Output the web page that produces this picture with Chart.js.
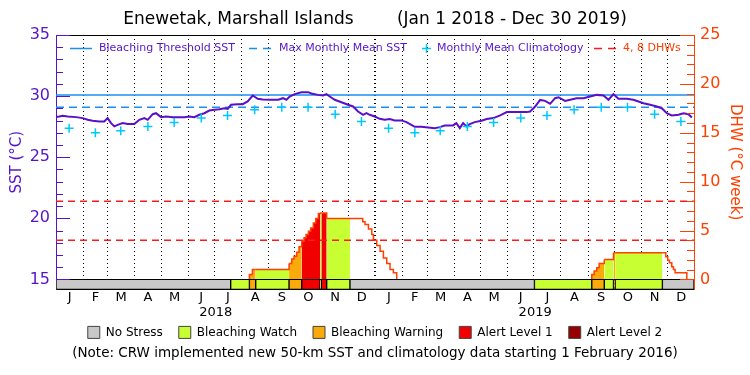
<!DOCTYPE html>
<html><head><meta charset="utf-8">
<script src="https://cdn.jsdelivr.net/npm/chart.js@4/dist/chart.umd.min.js"></script>
<style>html,body{margin:0;padding:0;background:#fff}canvas{display:block}</style>
</head><body>
<canvas id="c" width="750" height="375"></canvas>
<script>
// ---------- data ----------
const chartTitle = 'Enewetak, Marshall Islands        (Jan 1 2018 - Dec 30 2019)';
const noteText = '(Note: CRW implemented new 50-km SST and climatology data starting 1 February 2016)';
const monthLetters = ['J','F','M','A','M','J','J','A','S','O','N','D','J','F','M','A','M','J','J','A','S','O','N','D'];
const monthMidDays = [15.5,45,74.5,105,135.5,166,196.5,227.5,258,288.5,319,349.5,380.5,410,439.5,470,500.5,531,561.5,592.5,623,653.5,684,714.5];
const monthStartDays = [31,59,90,120,151,181,212,243,273,304,334,365,396,424,455,485,516,546,577,608,638,669,699];
const yearLabels = ['2018','2019'];
const yearMidDays = [182.5,547.5];
const sstTickValues = [15,20,25,30,35];
const dhwTickValues = [0,5,10,15,20,25];

const sstDays = [0,3.8,7.6,13.3,22.9,30.5,36.2,41.9,49.5,55.2,59,62.9,66.7,70.5,76.2,81.9,89.5,95.2,101,104.8,110.5,114.3,120,125.7,133.3,141,146.7,152.4,158.1,163.8,169.5,175.2,181,186.7,192.4,196.2,200,207.6,213.3,219,224.8,230.5,236.2,243.8,
254,259.4,263.3,267,272.8,280.4,288,291.8,299.4,305.2,309,312.8,318.5,326.1,333.7,339.4,345.2,350.9,354.7,358.5,364.2,369.9,375.6,381.4,387,394.7,400.4,406.1,409.9,417.5,425.2,432.8,438.5,444.2,453.7,457.5,461.4,465.2,469,472.8,478.5,486.1,
492.2,499.8,507.5,515.1,522.7,530.3,537.9,541.7,547.5,553.2,558.9,564.6,570.3,574.1,581.7,587.5,595,602.7,610.3,617.9,625.6,631.3,637,642.7,652.2,659.8,665.6,671.3,678.9,686.5,692.2,697.9,703.6,711.3,717,722.7,726.5];
const sstValues = [28.28,28.33,28.39,28.33,28.28,28.2,28.06,27.98,27.93,27.93,28.2,27.79,27.52,27.65,27.79,27.71,27.71,28.06,28.2,28.06,28.52,28.6,28.28,28.33,28.28,28.28,28.28,28.33,28.28,28.47,28.6,28.82,28.88,28.93,29.01,28.96,29.29,29.34,29.34,29.56,30.05,29.78,29.72,29.7,
29.7,29.83,29.7,29.97,30.16,30.32,30.32,30.21,30.1,30.05,30.16,29.97,29.7,29.5,29.29,29.15,28.74,28.47,28.6,28.47,28.33,28.14,28.06,28.12,28.01,28.01,27.87,27.65,27.49,27.49,27.43,27.38,27.46,27.6,27.6,27.79,27.38,27.79,27.52,27.71,27.87,27.98,
28.12,28.2,28.42,28.69,28.69,28.69,28.69,28.74,29.15,29.69,29.61,29.37,29.83,29.91,29.61,29.7,29.83,29.83,29.97,30.1,30.05,29.7,30.16,29.78,29.78,29.7,29.56,29.42,29.29,29.15,29.01,28.6,28.42,28.47,28.6,28.52,28.25];

const climDays = [15,45,74,105,135,166,196,227,258,288,319,349,380,410,439,470,500,531,561,592,623,653,684,714];
const climValues = [27.36,27.0,27.17,27.52,27.84,28.2,28.41,28.88,29.09,29.09,28.52,27.93,27.36,27.0,27.17,27.52,27.84,28.2,28.41,28.88,29.09,29.09,28.52,27.93];

const thresholdSST = 30.09;
const mmmSST = 29.09;
const dhwRefLevels = [4, 8];

const dhwDays = [221,221,224.4,228.2,266.3,269.3,272,275,277.7,280.8,283.4,285.7,288.4,291,294.1,296.8,299.8,301.7,303.2,309.3,335.9,350.5,353.1,357,360.8,362.7,366.5,370.3,374.1,377.9,381.7,385.5,389.3,390,612.2,612.2,614.9,617.9,620.6,626.5,637,638.9,692.9,696.8,699,700.9,703.6,705.5,707.4,720.8];
const dhwValues = [0,0.5,1.02,1.02,1.63,2.1,2.38,2.79,3.33,3.91,4.25,4.59,4.93,5.27,5.78,6.22,6.73,6.8,6.8,6.22,6.22,5.9,5.61,5.17,4.59,4.01,3.47,2.89,2.2,1.63,1.02,0.68,0,null,0,0.51,0.85,1.19,1.63,2.04,2.72,2.72,2.72,2.31,1.97,1.7,1.29,1.02,0.68,0];
const dhwLevels = [2,2,2,1,2,2,2,2,2,3,3,3,3,3,3,3,3,1,3,1,0,0,0,0,0,0,0,0,0,0,0,0,0,0,2,2,2,2,2,1,2,1,0,0,0,0,0,0,0,0];

const bandStart = [0,199.6,221,228.2,266.3,280.8,301.7,303.2,309.3,335.9,546.7,612.2,626.5,637,638.9,692.9];
const bandEnd   = [199.6,221,228.2,266.3,280.8,301.7,303.2,309.3,335.9,546.7,612.2,626.5,637,638.9,692.9,729];
const bandLevel = [0,1,2,1,2,3,1,3,1,0,1,2,1,2,1,0];

const stressLabels = ['No Stress','Bleaching Watch','Bleaching Warning','Alert Level 1','Alert Level 2'];
const stressColors = ['#c8c8c8','#c8ff32','#faaa0a','#f00000','#960000'];
const topLegendLabels = ['Bleaching Threshold SST','Max Monthly Mean SST','Monthly Mean Climatology','4, 8 DHWs'];

// ---------- style ----------
const FONT = '"DejaVu Sans", "Liberation Sans", sans-serif';
const AX_L = '#5514c8';
const AX_R = '#ff4000';
const SST_COLOR = '#5a0fc8';
const BLUE = '#1a8ff0';
const CYAN = '#00c8ff';
const RED = '#ff1a1a';

const xy = (xs, ys) => xs.map((x, i) => ({x, y: ys[i]}));

const innerTicks = {
  id: 'innerTicks',
  afterDatasetsDraw(chart) {
    const ctx = chart.ctx, yL = chart.scales.y, yR = chart.scales.y2;
    ctx.save();
    ctx.lineWidth = 1;
    ctx.strokeStyle = AX_L;
    for (let v = 15; v <= 35; v++) {
      const py = Math.round(yL.getPixelForValue(v)) + 0.5;
      const len = v % 5 === 0 ? 14 : 7;
      ctx.beginPath(); ctx.moveTo(yL.right, py); ctx.lineTo(yL.right + len, py); ctx.stroke();
    }
    ctx.strokeStyle = AX_R;
    for (let v = 0; v <= 25; v++) {
      const py = Math.round(yR.getPixelForValue(v)) + 0.5;
      const len = v % 5 === 0 ? 14 : 7;
      ctx.beginPath(); ctx.moveTo(yR.left, py); ctx.lineTo(yR.left - len, py); ctx.stroke();
    }
    ctx.restore();
  }
};

const topLegend = {
  id: 'topLegend',
  afterDatasetsDraw(chart) {
    const ctx = chart.ctx, a = chart.chartArea;
    const y = Math.round(a.top + 13) + 0.5;
    const L = a.left;
    ctx.save();
    ctx.font = '11px ' + FONT;
    ctx.textBaseline = 'middle';
    ctx.textAlign = 'left';
    ctx.lineWidth = 1.5;
    ctx.strokeStyle = BLUE; ctx.setLineDash([]);
    ctx.beginPath(); ctx.moveTo(L + 14, y); ctx.lineTo(L + 36, y); ctx.stroke();
    ctx.fillStyle = AX_L; ctx.fillText(topLegendLabels[0], L + 43, y);
    ctx.setLineDash([8, 6]);
    ctx.beginPath(); ctx.moveTo(L + 193, y); ctx.lineTo(L + 217, y); ctx.stroke();
    ctx.fillText(topLegendLabels[1], L + 223, y);
    ctx.setLineDash([]); ctx.strokeStyle = CYAN;
    ctx.beginPath(); ctx.moveTo(L + 366, y); ctx.lineTo(L + 375, y); ctx.moveTo(L + 370.5, y - 4.5); ctx.lineTo(L + 370.5, y + 4.5); ctx.stroke();
    ctx.fillText(topLegendLabels[2], L + 381, y);
    ctx.strokeStyle = RED; ctx.setLineDash([8, 6]);
    ctx.beginPath(); ctx.moveTo(L + 538, y); ctx.lineTo(L + 560, y); ctx.stroke();
    ctx.fillStyle = AX_R; ctx.fillText(topLegendLabels[3], L + 567, y);
    ctx.restore();
  }
};

// nudge the bottom legend up so it sits right under the year labels
const legendNudge = {
  id: 'legendNudge',
  afterLayout(chart) {
    const lg = chart.legend;
    if (lg) { lg.top -= 10; lg.bottom -= 10; }
  }
};

const fillColor = lvl => lvl === 0 ? 'rgba(0,0,0,0)' : stressColors[lvl];

new Chart(document.getElementById('c'), {
  type: 'line',
  data: {
    datasets: [
      {
        type: 'bar', label: 'stress', indexAxis: 'y', xAxisID: 'x', yAxisID: 'yBand', order: 0,
        data: bandStart.map((s, i) => ({x: [s, bandEnd[i]], y: 0.5})),
        backgroundColor: bandLevel.map(l => stressColors[l]),
        borderColor: '#000', borderWidth: 1, borderSkipped: false, barThickness: 10, grouped: false
      },
      {
        label: 'Monthly Mean Climatology', xAxisID: 'x', yAxisID: 'y', order: 1,
        data: xy(climDays, climValues), showLine: false,
        pointStyle: 'cross', pointRadius: 4.5, pointBorderWidth: 1.5, pointBorderColor: CYAN, pointBackgroundColor: CYAN
      },
      {
        label: 'SST', xAxisID: 'x', yAxisID: 'y', order: 2,
        data: xy(sstDays, sstValues), borderColor: SST_COLOR, borderWidth: 2, pointRadius: 0, tension: 0
      },
      {
        label: 'Bleaching Threshold SST', xAxisID: 'x', yAxisID: 'y', order: 3,
        data: [{x: 0, y: thresholdSST}, {x: 729, y: thresholdSST}], borderColor: BLUE, borderWidth: 1.5, pointRadius: 0
      },
      {
        label: 'Max Monthly Mean SST', xAxisID: 'x', yAxisID: 'y', order: 3,
        data: [{x: 0, y: mmmSST}, {x: 729, y: mmmSST}], borderColor: BLUE, borderWidth: 1.5, borderDash: [8, 5], pointRadius: 0
      },
      {
        label: '4 DHW', xAxisID: 'x', yAxisID: 'y2', order: 3,
        data: [{x: 0, y: dhwRefLevels[0]}, {x: 729, y: dhwRefLevels[0]}], borderColor: RED, borderWidth: 1.5, borderDash: [7, 5], pointRadius: 0
      },
      {
        label: '8 DHW', xAxisID: 'x', yAxisID: 'y2', order: 3,
        data: [{x: 0, y: dhwRefLevels[1]}, {x: 729, y: dhwRefLevels[1]}], borderColor: RED, borderWidth: 1.5, borderDash: [7, 5], pointRadius: 0
      },
      {
        label: 'DHW', xAxisID: 'x', yAxisID: 'y2', order: 5,
        data: xy(dhwDays, dhwValues), stepped: true, borderColor: AX_R, borderWidth: 1.5, pointRadius: 0,
        fill: 'origin', backgroundColor: 'rgba(0,0,0,0)', spanGaps: false,
        segment: { backgroundColor: c => fillColor(dhwLevels[c.p0DataIndex]) }
      }
    ]
  },
  options: {
    responsive: false, animation: false, devicePixelRatio: 1, events: [],
    layout: { padding: { left: 0, right: 0, top: 0, bottom: 13.4 } },
    plugins: {
      tooltip: { enabled: false },
      title: { display: true, text: chartTitle, color: '#000', font: { family: FONT, size: 17, weight: 'normal' }, padding: { top: 9, bottom: 5.6 } },
      subtitle: { display: true, position: 'bottom', text: noteText, color: '#000', font: { family: FONT, size: 13.5, weight: 'normal' }, padding: { top: -13, bottom: 0 } },
      legend: {
        display: true, position: 'bottom', onClick: null,
        labels: {
          boxWidth: 12, boxHeight: 12, padding: 16, color: '#000', font: { family: FONT, size: 12 },
          generateLabels: () => stressLabels.map((t, i) => ({ text: t, fillStyle: stressColors[i], strokeStyle: '#444', lineWidth: 1, hidden: false, fontColor: '#000' }))
        }
      }
    },
    scales: {
      x: {
        type: 'linear', position: 'bottom', min: 0, max: 729,
        afterBuildTicks: s => { s.ticks = monthMidDays.map(v => ({ value: v })); },
        ticks: { autoSkip: false, maxRotation: 0, padding: 0, color: '#000', font: { family: FONT, size: 13 }, callback: (v, i) => monthLetters[i] },
        grid: { display: false, drawTicks: false },
        border: { display: true, color: '#000', width: 1 },
        afterFit: s => { s.height = 15; }
      },
      xYear: {
        type: 'linear', position: 'bottom', min: 0, max: 729,
        afterBuildTicks: s => { s.ticks = yearMidDays.map(v => ({ value: v })); },
        ticks: { autoSkip: false, maxRotation: 0, padding: 0, color: '#000', font: { family: FONT, size: 13 }, callback: (v, i) => yearLabels[i] },
        grid: { display: false, drawTicks: false },
        border: { display: false },
        afterFit: s => { s.height = 16; }
      },
      xGrid: {
        type: 'linear', position: 'bottom', min: 0, max: 729,
        afterBuildTicks: s => { s.ticks = monthStartDays.map(v => ({ value: v })); },
        ticks: { display: false },
        grid: { display: true, drawTicks: false, color: '#000', lineWidth: c => (c.tick && c.tick.value === 365) ? 2 : 1 },
        border: { display: false, dash: [1, 3] },
        afterFit: s => { s.height = 0; }
      },
      xTop: {
        type: 'linear', position: 'top', min: 0, max: 729,
        ticks: { display: false }, grid: { display: false, drawTicks: false },
        border: { display: true, color: '#000', width: 1 },
        afterFit: s => { s.height = 0; }
      },
      y: {
        type: 'linear', position: 'left', min: 14.184, max: 35,
        afterBuildTicks: s => { s.ticks = sstTickValues.map(v => ({ value: v })); },
        ticks: { color: AX_L, font: { family: FONT, size: 16 }, padding: 6 },
        grid: { display: false, drawTicks: false },
        border: { display: true, color: AX_L, width: 1 },
        title: { display: true, text: 'SST (°C)', color: AX_L, font: { family: FONT, size: 15 }, padding: { top: 8, bottom: 0 } },
        afterFit: s => { s.width = 56; }
      },
      y2: {
        type: 'linear', position: 'right', min: -1.0204, max: 25,
        afterBuildTicks: s => { s.ticks = dhwTickValues.map(v => ({ value: v })); },
        ticks: { color: AX_R, font: { family: FONT, size: 16 }, padding: 6 },
        grid: { display: false, drawTicks: false },
        border: { display: true, color: AX_R, width: 1 },
        title: { display: true, text: 'DHW (°C week)', color: AX_R, font: { family: FONT, size: 15 }, padding: { top: 6, bottom: 0 } },
        afterFit: s => { s.width = 56; }
      },
      yBand: { type: 'linear', display: false, min: 0, max: 25.5, offset: false }
    }
  },
  plugins: [innerTicks, topLegend, legendNudge]
});
</script>
</body></html>
